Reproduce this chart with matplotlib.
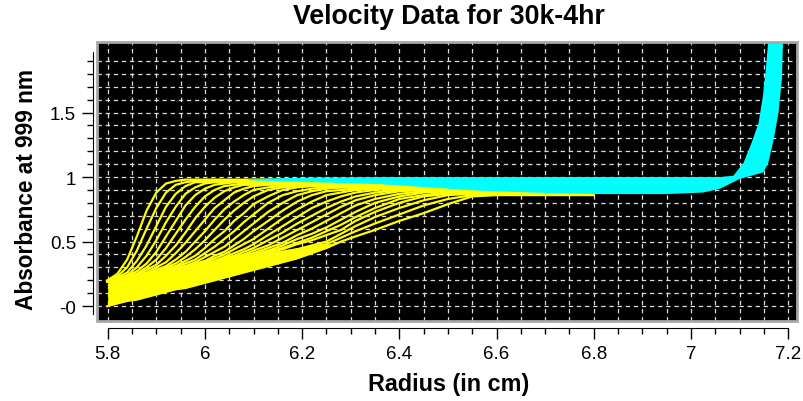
import matplotlib
matplotlib.use("Agg")
import matplotlib.pyplot as plt
from matplotlib.patches import Rectangle
from matplotlib.ticker import FixedLocator, FixedFormatter
import numpy as np

plt.rcParams['font.family'] = ['Liberation Sans', 'DejaVu Sans']

title = "Velocity Data for 30k-4hr"
x_label = "Radius (in cm)"
y_label = "Absorbance at 999 nm"

x_tick_values = [5.8, 6.0, 6.2, 6.4, 6.6, 6.8, 7.0, 7.2]
x_tick_labels = ["5.8", "6", "6.2", "6.4", "6.6", "6.8", "7", "7.2"]
y_tick_values = [0.0, 0.5, 1.0, 1.5]
y_tick_labels = ["-0", "0.5", "1", "1.5"]

# radius points shared by every scan (cm)
radius = [5.80, 5.82, 5.84, 5.86, 5.88, 5.90, 5.92, 5.94, 5.96, 5.98, 6.00,
          6.02, 6.04, 6.06, 6.08, 6.10, 6.13, 6.16, 6.19, 6.22, 6.25, 6.28,
          6.31, 6.35, 6.40, 6.45, 6.50, 6.55, 6.60, 6.70, 6.80]

# absorbance of each scan (yellow, inside the edit range)
scans = [
    [0.20, 0.25, 0.36, 0.54, 0.74, 0.88, 0.95, 0.97, 0.98, 0.98, 0.98, 0.98, 0.98, 0.98, 0.98, 0.98,
     0.98, 0.98, 0.98, 0.98, 0.98, 0.98, 0.98, 0.98, 0.98, 0.98, 0.98, 0.98, 0.98, 0.98, 0.98],
    [0.20, 0.23, 0.30, 0.43, 0.60, 0.76, 0.88, 0.94, 0.96, 0.97, 0.97, 0.97, 0.97, 0.97, 0.97, 0.97,
     0.97, 0.97, 0.97, 0.97, 0.97, 0.97, 0.97, 0.97, 0.97, 0.97, 0.97, 0.97, 0.97, 0.97, 0.97],
    [0.19, 0.22, 0.26, 0.35, 0.47, 0.62, 0.77, 0.87, 0.93, 0.96, 0.96, 0.97, 0.97, 0.97, 0.97, 0.97,
     0.97, 0.97, 0.97, 0.97, 0.97, 0.97, 0.97, 0.97, 0.97, 0.97, 0.97, 0.97, 0.97, 0.97, 0.97],
    [0.19, 0.21, 0.24, 0.30, 0.39, 0.51, 0.65, 0.77, 0.87, 0.92, 0.95, 0.96, 0.96, 0.96, 0.96, 0.96,
     0.96, 0.96, 0.96, 0.96, 0.96, 0.96, 0.96, 0.96, 0.96, 0.96, 0.96, 0.96, 0.96, 0.96, 0.96],
    [0.19, 0.21, 0.23, 0.27, 0.33, 0.42, 0.54, 0.66, 0.78, 0.86, 0.91, 0.94, 0.95, 0.96, 0.96, 0.96,
     0.96, 0.96, 0.96, 0.96, 0.96, 0.96, 0.96, 0.96, 0.96, 0.96, 0.96, 0.96, 0.96, 0.96, 0.96],
    [0.19, 0.21, 0.23, 0.25, 0.30, 0.36, 0.45, 0.56, 0.67, 0.77, 0.85, 0.90, 0.93, 0.94, 0.95, 0.95,
     0.95, 0.95, 0.95, 0.95, 0.95, 0.95, 0.95, 0.95, 0.95, 0.95, 0.95, 0.95, 0.95, 0.95, 0.95],
    [0.19, 0.20, 0.22, 0.24, 0.28, 0.32, 0.39, 0.47, 0.57, 0.68, 0.77, 0.84, 0.89, 0.92, 0.94, 0.94,
     0.95, 0.95, 0.95, 0.95, 0.95, 0.95, 0.95, 0.95, 0.95, 0.95, 0.95, 0.95, 0.95, 0.95, 0.95],
    [0.19, 0.20, 0.22, 0.24, 0.26, 0.30, 0.34, 0.41, 0.49, 0.58, 0.67, 0.76, 0.82, 0.88, 0.91, 0.93,
     0.94, 0.94, 0.94, 0.94, 0.94, 0.94, 0.94, 0.94, 0.94, 0.94, 0.94, 0.94, 0.94, 0.94, 0.94],
    [0.19, 0.20, 0.22, 0.23, 0.25, 0.28, 0.31, 0.36, 0.42, 0.50, 0.58, 0.67, 0.75, 0.81, 0.86, 0.90,
     0.92, 0.93, 0.94, 0.94, 0.94, 0.94, 0.94, 0.94, 0.94, 0.94, 0.94, 0.94, 0.94, 0.94, 0.94],
    [0.19, 0.20, 0.22, 0.23, 0.25, 0.27, 0.30, 0.33, 0.38, 0.44, 0.51, 0.59, 0.67, 0.74, 0.80, 0.85,
     0.90, 0.92, 0.93, 0.93, 0.93, 0.93, 0.93, 0.93, 0.93, 0.93, 0.93, 0.93, 0.93, 0.93, 0.93],
    [0.19, 0.20, 0.22, 0.23, 0.25, 0.26, 0.29, 0.31, 0.35, 0.39, 0.45, 0.52, 0.58, 0.66, 0.72, 0.79,
     0.85, 0.90, 0.92, 0.93, 0.93, 0.93, 0.93, 0.93, 0.93, 0.93, 0.93, 0.93, 0.93, 0.93, 0.93],
    [0.19, 0.20, 0.22, 0.23, 0.24, 0.26, 0.28, 0.30, 0.33, 0.36, 0.41, 0.46, 0.52, 0.58, 0.65, 0.71,
     0.80, 0.86, 0.89, 0.91, 0.92, 0.92, 0.92, 0.92, 0.92, 0.92, 0.92, 0.92, 0.92, 0.92, 0.92],
    [0.19, 0.20, 0.22, 0.23, 0.24, 0.26, 0.27, 0.29, 0.31, 0.34, 0.38, 0.42, 0.46, 0.52, 0.58, 0.64,
     0.73, 0.80, 0.86, 0.89, 0.91, 0.92, 0.92, 0.92, 0.92, 0.92, 0.92, 0.92, 0.92, 0.92, 0.92],
    [0.19, 0.20, 0.22, 0.23, 0.24, 0.26, 0.27, 0.29, 0.31, 0.33, 0.35, 0.39, 0.42, 0.47, 0.52, 0.58,
     0.66, 0.74, 0.81, 0.86, 0.89, 0.90, 0.91, 0.92, 0.92, 0.92, 0.92, 0.92, 0.92, 0.92, 0.92],
    [0.19, 0.20, 0.22, 0.23, 0.24, 0.26, 0.27, 0.28, 0.30, 0.32, 0.34, 0.37, 0.40, 0.44, 0.48, 0.52,
     0.60, 0.68, 0.75, 0.81, 0.86, 0.88, 0.90, 0.91, 0.91, 0.91, 0.91, 0.91, 0.91, 0.91, 0.91],
    [0.19, 0.20, 0.22, 0.23, 0.24, 0.26, 0.27, 0.28, 0.30, 0.31, 0.33, 0.35, 0.38, 0.41, 0.44, 0.48,
     0.55, 0.62, 0.69, 0.76, 0.81, 0.85, 0.88, 0.90, 0.91, 0.91, 0.91, 0.91, 0.91, 0.91, 0.91],
    [0.19, 0.20, 0.22, 0.23, 0.24, 0.26, 0.27, 0.28, 0.29, 0.31, 0.33, 0.35, 0.37, 0.39, 0.42, 0.45,
     0.51, 0.57, 0.64, 0.70, 0.76, 0.81, 0.85, 0.88, 0.90, 0.90, 0.90, 0.90, 0.90, 0.90, 0.90],
    [0.19, 0.20, 0.22, 0.23, 0.24, 0.26, 0.27, 0.28, 0.29, 0.31, 0.32, 0.34, 0.36, 0.38, 0.40, 0.43,
     0.47, 0.53, 0.59, 0.65, 0.71, 0.77, 0.82, 0.86, 0.89, 0.90, 0.90, 0.90, 0.90, 0.90, 0.90],
    [0.19, 0.20, 0.22, 0.23, 0.24, 0.26, 0.27, 0.28, 0.29, 0.31, 0.32, 0.34, 0.35, 0.37, 0.39, 0.41,
     0.45, 0.49, 0.55, 0.60, 0.66, 0.72, 0.78, 0.83, 0.87, 0.89, 0.89, 0.89, 0.89, 0.89, 0.89],
    [0.19, 0.20, 0.22, 0.23, 0.24, 0.26, 0.27, 0.28, 0.29, 0.31, 0.32, 0.33, 0.35, 0.37, 0.38, 0.40,
     0.43, 0.47, 0.52, 0.56, 0.61, 0.67, 0.73, 0.80, 0.85, 0.88, 0.89, 0.89, 0.89, 0.89, 0.89],
    [0.19, 0.20, 0.22, 0.23, 0.24, 0.26, 0.27, 0.28, 0.29, 0.31, 0.32, 0.33, 0.35, 0.36, 0.38, 0.40,
     0.42, 0.45, 0.49, 0.53, 0.58, 0.63, 0.69, 0.76, 0.83, 0.86, 0.88, 0.88, 0.88, 0.88, 0.88],
    [0.19, 0.20, 0.22, 0.23, 0.24, 0.26, 0.27, 0.28, 0.29, 0.31, 0.32, 0.33, 0.35, 0.36, 0.38, 0.39,
     0.42, 0.44, 0.48, 0.51, 0.55, 0.59, 0.66, 0.73, 0.80, 0.85, 0.87, 0.88, 0.88, 0.88, 0.88],
    [0.19, 0.20, 0.22, 0.23, 0.24, 0.26, 0.27, 0.28, 0.29, 0.31, 0.32, 0.33, 0.35, 0.36, 0.37, 0.39,
     0.41, 0.42, 0.44, 0.47, 0.50, 0.56, 0.62, 0.69, 0.76, 0.82, 0.86, 0.87, 0.87, 0.87, 0.87],
    [0.19, 0.20, 0.22, 0.23, 0.24, 0.26, 0.27, 0.28, 0.29, 0.31, 0.32, 0.33, 0.35, 0.36, 0.37, 0.39,
     0.41, 0.42, 0.44, 0.46, 0.48, 0.53, 0.58, 0.64, 0.71, 0.78, 0.83, 0.86, 0.87, 0.87, 0.87],
]

# last scan (lower edge of the yellow data) and top of the packed band above it
lower_edge = [0.00, 0.02, 0.04, 0.05, 0.07, 0.09, 0.11, 0.13, 0.14, 0.16, 0.18, 0.20, 0.22, 0.24,
              0.26, 0.28, 0.31, 0.34, 0.37, 0.41, 0.45, 0.50, 0.54, 0.59, 0.66, 0.72, 0.79, 0.85,
              0.86, 0.86, 0.86]
band_top = [0.19, 0.20, 0.22, 0.23, 0.24, 0.26, 0.27, 0.28, 0.29, 0.31, 0.32, 0.33, 0.35, 0.36,
            0.37, 0.39, 0.41, 0.42, 0.44, 0.46, 0.48, 0.50, 0.54, 0.59, 0.66, 0.72, 0.79, 0.85,
            0.86, 0.86, 0.86]

# excluded data (cyan): upper outline, then lower outline
cyan_top_r = [6.09, 6.15, 6.22, 6.40, 6.60, 6.80, 7.00, 7.06, 7.087, 7.108, 7.125, 7.139,
              7.148, 7.154, 7.158, 7.160]
cyan_top_a = [0.985, 0.99, 0.997, 1.0, 1.0, 1.0, 1.0, 1.0, 1.01, 1.11, 1.27, 1.42,
              1.63, 1.84, 2.02, 2.10]
cyan_bot_r = [6.09, 6.18, 6.27, 6.36, 6.46, 6.56, 6.67, 6.80, 6.95, 7.025, 7.06, 7.10,
              7.149, 7.159, 7.17, 7.18, 7.187, 7.189, 7.19]
cyan_bot_a = [0.975, 0.965, 0.955, 0.945, 0.92, 0.895, 0.88, 0.868, 0.868, 0.88, 0.91, 0.985,
              1.036, 1.11, 1.29, 1.50, 1.76, 2.02, 2.10]

fig = plt.figure(figsize=(8.04, 4.02), dpi=100)
ax = fig.add_axes([97 / 804, 80 / 402, 700 / 804, 279 / 402])
ax.set_facecolor("black")
ax.set_xlim(5.778, 7.218)
ax.set_ylim(-0.116, 2.047)

# data
ax.fill_between(radius, lower_edge, band_top, color="yellow", lw=0, zorder=2)
ax.plot(radius, lower_edge, color="yellow", lw=1.6, zorder=2)
for scan in scans:
    ax.plot(radius, scan, color="yellow", lw=1.6, zorder=2)
ax.fill(cyan_top_r + cyan_bot_r[::-1], cyan_top_a + cyan_bot_a[::-1],
        color="cyan", lw=0, zorder=3)

# ticks and scales
ax.xaxis.set_major_locator(FixedLocator(x_tick_values))
ax.xaxis.set_major_formatter(FixedFormatter(x_tick_labels))
ax.xaxis.set_minor_locator(FixedLocator(np.arange(5.8, 7.2001, 0.05)))
ax.yaxis.set_major_locator(FixedLocator(y_tick_values))
ax.yaxis.set_major_formatter(FixedFormatter(y_tick_labels))
ax.yaxis.set_minor_locator(FixedLocator(np.arange(0, 1.95, 0.1)))
ax.tick_params(which="major", direction="out", length=8, width=1, labelsize=13.5, pad=4)
ax.tick_params(which="minor", direction="out", length=4.5, width=1)

ax.grid(which="both", color="#dddddd", linestyle=(0, (3.5, 3)), linewidth=0.9)
ax.set_axisbelow(True)

ax.spines["top"].set_visible(False)
ax.spines["right"].set_visible(False)
ax.spines["left"].set_position(("outward", 3))
ax.spines["left"].set_bounds(-0.06, 1.966)
ax.spines["bottom"].set_position(("outward", 5))
ax.spines["bottom"].set_bounds(5.8, 7.2)

ax.add_patch(Rectangle((0, 0), 1, 1, transform=ax.transAxes, fill=False,
                       edgecolor="#a8a8a8", lw=2, clip_on=False, zorder=5))

fig.text(449 / 804, 1 - 17 / 402, title, ha="center", va="center", fontsize=19.3, fontweight="bold")
fig.text(449 / 804, 1 - 385 / 402, x_label, ha="center", va="center", fontsize=16.8, fontweight="bold")
fig.text(27 / 804, 1 - 190 / 402, y_label, ha="center", va="center", rotation=90,
         fontsize=16.3, fontweight="bold")

fig.savefig("out.png", dpi=100, facecolor="white")
